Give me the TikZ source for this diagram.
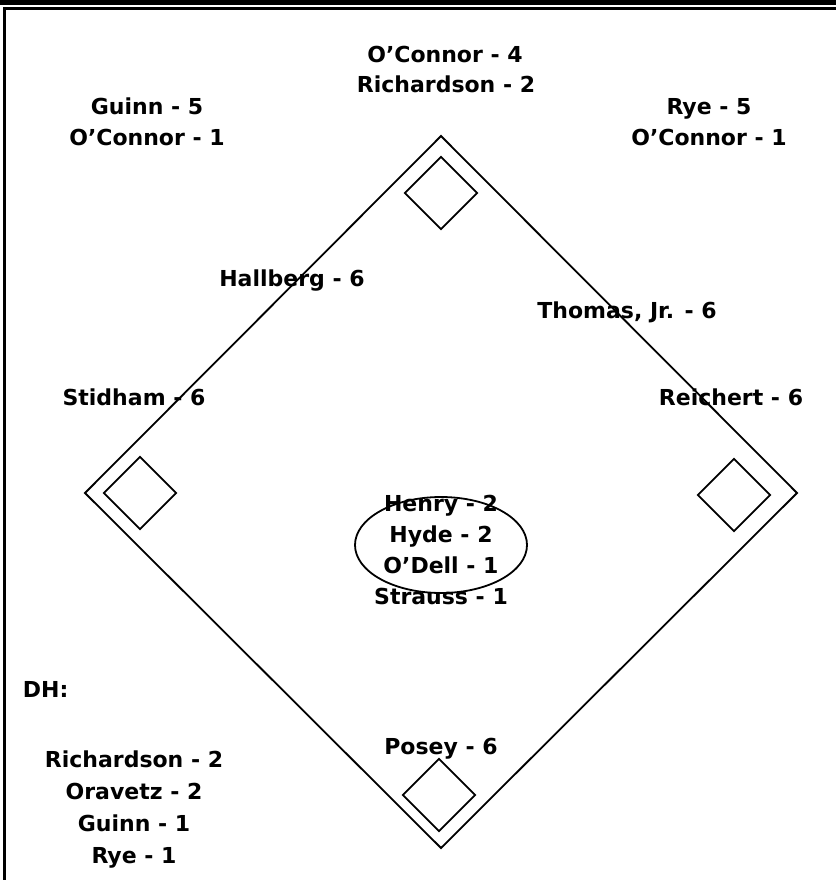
\documentclass[tikz,border=0pt]{standalone}
\usepackage{fontspec}
\setmainfont{DejaVu Sans}

\tikzset{
  lbl/.style={font=\bfseries\fontsize{22}{30}\selectfont, anchor=base, inner sep=0pt},
  plate/.style={draw, line width=1.8pt, rotate=45, minimum size=51pt, inner sep=0pt},
}

\begin{document}
\begin{tikzpicture}[x=1pt, y=-1pt, line width=1.8pt]
    \useasboundingbox (0,0) rectangle (836,880);

    % Draw the page frame
    \fill (0,0) rectangle (836,5.5);
    \draw[line width=3pt] (4,880) -- (4,8.5) -- (836,8.5);

    % Define the corners of the infield
    \coordinate (Home) at (441,848);
    \coordinate (First) at (797,493);
    \coordinate (Second) at (441,136);
    \coordinate (Third) at (85,493);

    % Draw the infield diamond
    \draw (Home) -- (First) -- (Second) -- (Third) -- cycle;

    % Draw the bases
    \node[plate] (home) at (439,795) {};
    \node[plate] (first) at (734,495) {};
    \node[plate] (second) at (441,193) {};
    \node[plate] (third) at (140,493) {};

    % Draw the pitcher's mound
    \draw (441,545) ellipse [x radius=86pt, y radius=48pt];

    % Label the outfield
    \node[lbl] (lf1) at (147,115) {Guinn - 5};
    \node[lbl] (lf2) at (147,145) {O’Connor - 1};
    \node[lbl] (cf1) at (445,63) {O’Connor - 4};
    \node[lbl] (cf2) at (446,93) {Richardson - 2};
    \node[lbl] (rf1) at (709,115) {Rye - 5};
    \node[lbl] (rf2) at (709,145) {O’Connor - 1};

    % Label the infield
    \node[lbl] (ss) at (292,286) {Hallberg - 6};
    \node[lbl] (2b) at (627,318) {Thomas, Jr. - 6};
    \node[lbl] (3b) at (134,405) {Stidham - 6};
    \node[lbl] (1b) at (731,405) {Reichert - 6};
    \node[lbl] (c) at (441,754) {Posey - 6};

    % Label the pitchers
    \foreach \txt [count=\i] in {Henry - 2, Hyde - 2, O’Dell - 1, Strauss - 1}
        \node[lbl] (p\i) at (441,{480+31*\i}) {\txt};

    % Label the designated hitters
    \node[lbl, anchor=base west] (dh) at (22,697) {DH:};
    \foreach \txt [count=\i] in {Richardson - 2, Oravetz - 2, Guinn - 1, Rye - 1}
        \node[lbl] (dh\i) at (134,{735+32*\i}) {\txt};

\end{tikzpicture}
\end{document}
